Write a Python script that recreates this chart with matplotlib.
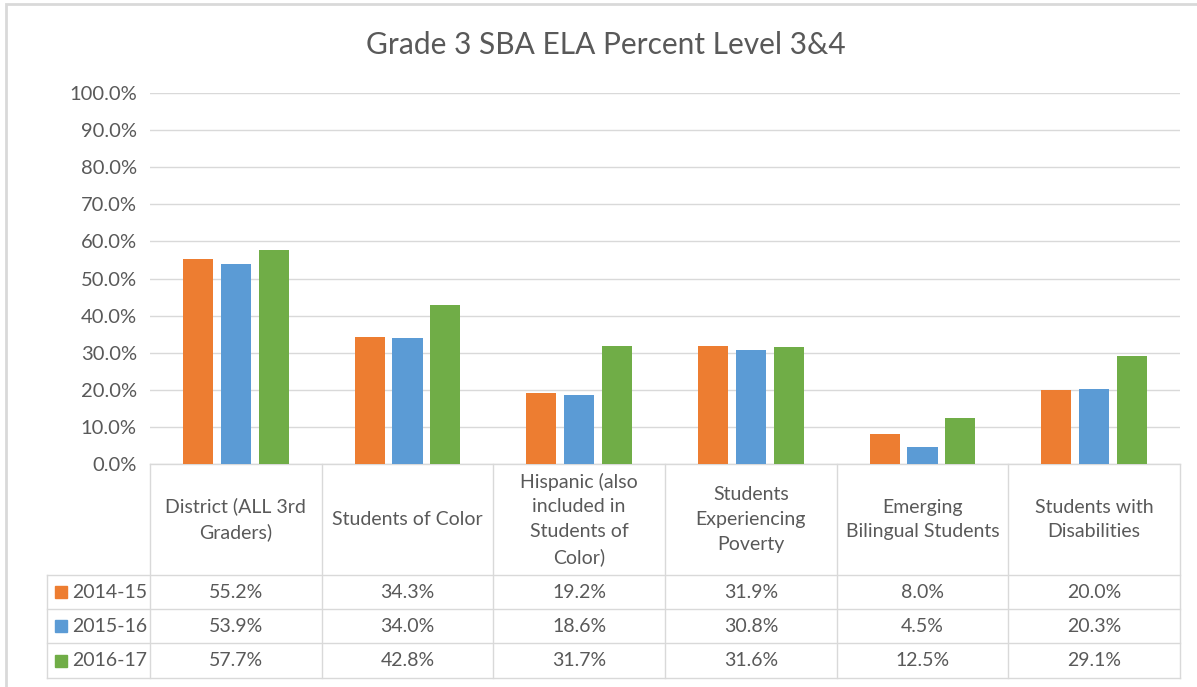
import matplotlib
matplotlib.use("Agg")
import matplotlib.pyplot as plt
from matplotlib.patches import Rectangle
from matplotlib.lines import Line2D
import numpy as np

categories = ["District (ALL 3rd\nGraders)", "Students of Color",
              "Hispanic (also\nincluded in\nStudents of\nColor)",
              "Students\nExperiencing\nPoverty", "Emerging\nBilingual Students",
              "Students with\nDisabilities"]
series_names = ["2014-15", "2015-16", "2016-17"]
v_2014 = [55.2, 34.3, 19.2, 31.9, 8.0, 20.0]
v_2015 = [53.9, 34.0, 18.6, 30.8, 4.5, 20.3]
v_2016 = [57.7, 42.8, 31.7, 31.6, 12.5, 29.1]
values = [v_2014, v_2015, v_2016]
colors = ["#ED7D31", "#5B9BD5", "#70AD47"]
yticks = [0, 10, 20, 30, 40, 50, 60, 70, 80, 90, 100]

plt.rcParams['font.family'] = ['Lato', 'DejaVu Sans']
TXT = "#595959"
GRID = "#d9d9d9"

W, H = 1197, 687
fig = plt.figure(figsize=(W / 100, H / 100), dpi=100)
fig.patch.set_facecolor("white")

def fx(px):
    return px / W

def fy(py):
    return 1 - py / H

ax_l, ax_r, ax_t, ax_b = 150, 1180, 93, 464
ax = fig.add_axes([fx(ax_l), fy(ax_b), fx(ax_r - ax_l), (ax_b - ax_t) / H])

n = len(categories)
x = np.arange(n)
bw = 0.175
step = 0.221
for i, (vals, c) in enumerate(zip(values, colors)):
    ax.bar(x + (i - 1) * step, vals, width=bw, color=c, zorder=3)

ax.set_xlim(-0.5, n - 0.5)
ax.set_ylim(0, 100)
ax.set_yticks(yticks)
ax.set_yticklabels([f"{t:.1f}%" for t in yticks], fontsize=14.5, color=TXT)
ax.tick_params(axis='y', length=0, pad=9.5)
ax.set_xticks([])
ax.grid(axis='y', color=GRID, linewidth=1, zorder=0)
for s in ["top", "right", "left"]:
    ax.spines[s].set_visible(False)
ax.spines["bottom"].set_color(GRID)
ax.spines["bottom"].set_linewidth(1)

fig.text(fx(606), fy(45), "Grade 3 SBA ELA Percent Level 3&4",
         ha="center", va="center", fontsize=21.5, color=TXT)

# data table
col_edges = [ax_l + (ax_r - ax_l) * k / n for k in range(n + 1)]
row_edges = [464, 575, 609, 643, 678]
leg_l = 47
lw = 1
for xe in col_edges:
    fig.add_artist(Line2D([fx(xe)] * 2, [fy(464), fy(678)], color=GRID, lw=lw))
fig.add_artist(Line2D([fx(leg_l)] * 2, [fy(575), fy(678)], color=GRID, lw=lw))
for ye in row_edges[1:]:
    fig.add_artist(Line2D([fx(leg_l), fx(ax_r)], [fy(ye)] * 2, color=GRID, lw=lw))

FS = 14
for k, cat in enumerate(categories):
    cx = 0.5 * (col_edges[k] + col_edges[k + 1])
    fig.text(fx(cx), fy(519.5), cat, ha="center", va="center", fontsize=FS,
             color=TXT, linespacing=1.56)
    for r in range(3):
        cy = 0.5 * (row_edges[r + 1] + row_edges[r + 2])
        fig.text(fx(cx), fy(cy), f"{values[r][k]:.1f}%", ha="center", va="center",
                 fontsize=FS, color=TXT)

for r in range(3):
    cy = 0.5 * (row_edges[r + 1] + row_edges[r + 2])
    fig.add_artist(Rectangle((fx(55), fy(cy + 6)), fx(12), 12 / H,
                             color=colors[r], transform=fig.transFigure))
    fig.text(fx(72), fy(cy), series_names[r], ha="left", va="center",
             fontsize=FS, color=TXT)

# outer chart border
fig.add_artist(Rectangle((fx(6), fy(H + 10)), 1.2, (H + 10 - 4) / H, fill=False,
                         edgecolor=GRID, lw=2, transform=fig.transFigure))

fig.savefig("out.png", dpi=100)
